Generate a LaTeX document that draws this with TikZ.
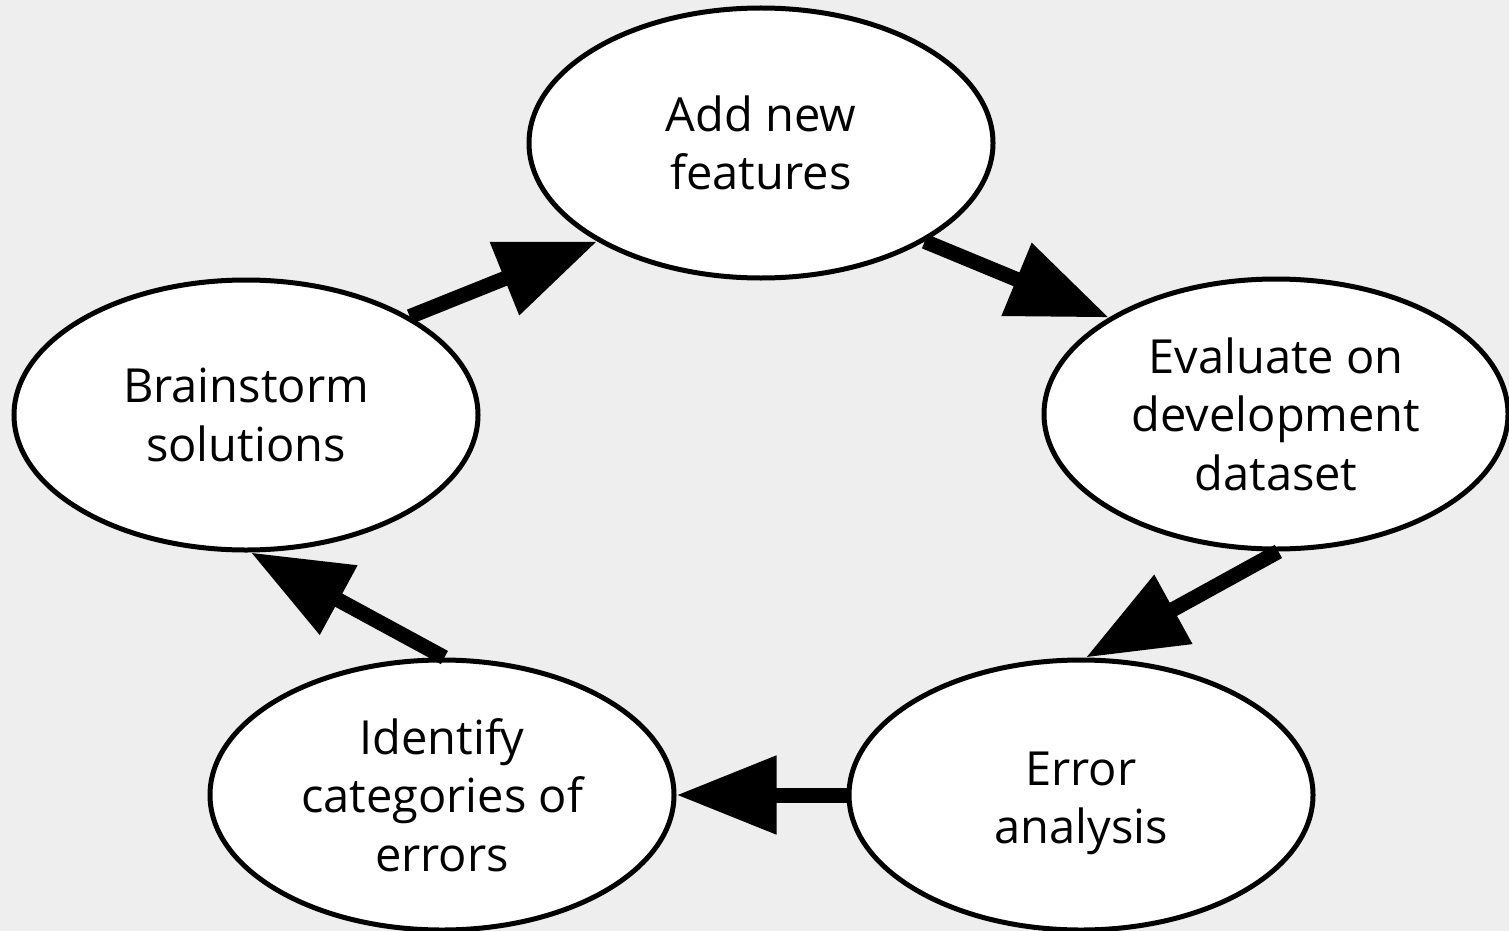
\documentclass[tikz,border=0pt]{standalone}
\usepackage{fontspec}
\setmainfont{Open Sans}
\usetikzlibrary{shapes.geometric,arrows.meta}
\definecolor{canvas}{RGB}{238,238,238}

\begin{document}
\begin{tikzpicture}[x=1pt, y=-1pt,
    stage/.style={draw, ellipse, fill=white, line width=5pt, minimum width=464pt, minimum height=270pt, inner sep=0pt, align=center, font=\fontsize{47}{58.5}\selectfont},
    flow/.style={line width=15pt, -{Triangle[length=100pt, width=75pt]}}]
    % Background
    \fill[canvas] (0,0) rectangle (1509,931);
    \useasboundingbox (0,0) rectangle (1509,931);

    % Stages of the loop
    \node[stage] (features) at (761,143) {Add new\\features};
    \node[stage] (evaluate) at (1276,414) {Evaluate on\\development\\dataset};
    \node[stage] (analysis) at (1081,795) {\rule{0pt}{50pt}Error\\analysis};
    \node[stage] (categories) at (442,795) {Identify\\categories of\\errors};
    \node[stage] (brainstorm) at (246,415) {Brainstorm\\solutions};

    % Connections
    \draw[flow] (features.-31) -- (evaluate.150);
    \draw[flow] (evaluate.-89) -- (analysis.88);
    \draw[flow] (analysis.180) -- (categories.0);
    \draw[flow] (categories.89) -- (brainstorm.-88);
    \draw[flow] (brainstorm.31) -- (features.211);
\end{tikzpicture}
\end{document}
